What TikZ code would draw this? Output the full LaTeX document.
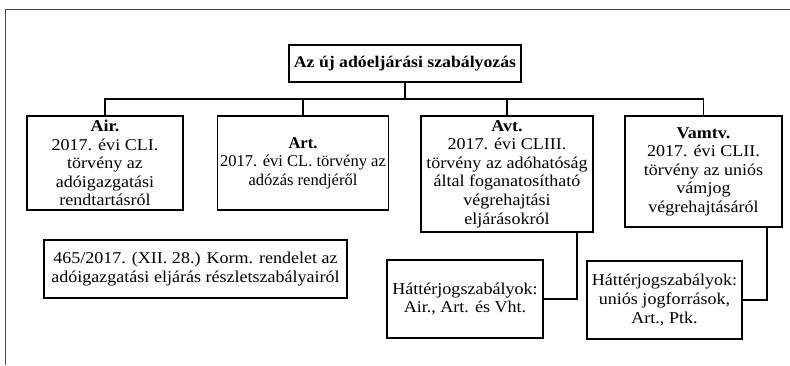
\documentclass[tikz,border=0pt]{standalone}
\usepackage{fontspec}
\setmainfont{Liberation Serif}[FakeStretch=1.09]
\newfontfamily\artfont{Liberation Serif}[FakeStretch=1.0]
\usepackage{tikz}

\begin{document}
\begin{tikzpicture}[x=0.75pt, y=-0.75pt,
    box/.style={draw, line width=1.4pt, align=center, inner sep=1pt,
        font=\fontsize{12.4}{13.9}\selectfont},
    link/.style={line width=1.4pt}]
    \useasboundingbox (0,0) rectangle (790,365);

    % 1. Frame round the chart (only top and left edges show)
    \draw[gray!60!black, line width=0.6pt] (5,365) -- (5,9) -- (790,9);

    % 2. Root of the chart
    \node[box, minimum width=174pt, minimum height=27.75pt,
        font=\bfseries\fontsize{12.2}{13.9}\selectfont] (top) at (405,63.5)
        {Az új adóeljárási szabályozás};

    % 3. The four laws
    \node[box, minimum width=117pt, minimum height=70.5pt] (air) at (105,163)
        {\textbf{Air.}\\2017. évi CLI.\\törvény az\\adóigazgatási\\rendtartásról};
    \node[box, minimum width=128.25pt, minimum height=70.5pt,
        font=\artfont\fontsize{12.4}{13.9}\selectfont] (art) at (303,163)
        {\textbf{Art.}\\2017. évi CL. törvény az\\adózás rendjéről};
    \node[box, minimum width=129pt, minimum height=87pt] (avt) at (507,174)
        {\textbf{Avt.}\\2017. évi CLIII.\\törvény az adóhatóság\\által foganatosítható\\végrehajtási\\eljárásokról};
    \node[box, minimum width=117.75pt, minimum height=83.25pt] (vamtv) at (703.5,171.5)
        {\textbf{Vamtv.}\\2017. évi CLII.\\törvény az uniós\\vámjog\\végrehajtásáról};

    % 4. Decree and background rules
    \node[box, minimum width=227.25pt, minimum height=43.5pt] (korm) at (195.5,269)
        {465/2017. (XII. 28.) Korm. rendelet az\\adóigazgatási eljárás részletszabályairól};
    \node[box, minimum width=117pt, minimum height=58.5pt] (hat1) at (465,299)
        {Háttérjogszabályok:\\Air., Art. és Vht.};
    \node[box, minimum width=116.25pt, minimum height=58.5pt] (hat2) at (664.5,300)
        {Háttérjogszabályok:\\uniós jogforrások,\\Art., Ptk.};

    % 5. Connectors
    \coordinate (bus) at (0,99);
    \draw[link] (top.south) -- (top.south |- bus);
    \draw[link] (air.north) -- (air.north |- bus) -- (vamtv.north |- bus) -- (vamtv.north);
    \draw[link] (art.north) -- (art.north |- bus);
    \draw[link] (avt.north) -- (avt.north |- bus);
    \draw[link] ([xshift=-12.75pt]avt.south east) |- (hat1.east);
    \draw[link] ([xshift=-12pt]vamtv.south east) |- (hat2.east);
\end{tikzpicture}
\end{document}
